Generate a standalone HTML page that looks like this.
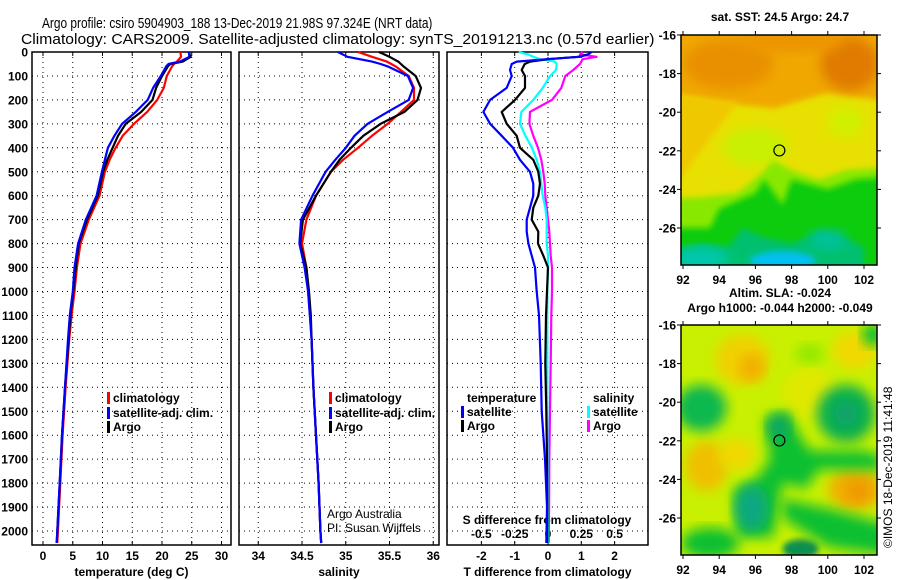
<!DOCTYPE html>
<html><head><meta charset="utf-8"><style>
html,body{margin:0;padding:0;background:#fff;}
svg{display:block;font-family:"Liberation Sans",sans-serif;}
.tk{font-size:12px;font-weight:bold;}
.lg{font-size:12px;font-weight:bold;}
</style></head><body>
<svg id="chart" width="900" height="580" viewBox="0 0 900 580" xmlns="http://www.w3.org/2000/svg">
<defs>
<filter id="blur" x="-20%" y="-20%" width="140%" height="140%"><feGaussianBlur stdDeviation="6"/></filter>
<filter id="blur2" x="-20%" y="-20%" width="140%" height="140%"><feGaussianBlur stdDeviation="3"/></filter>
<clipPath id="clipTop"><rect x="681" y="35" width="196" height="230"/></clipPath>
<clipPath id="clipBot"><rect x="681" y="325" width="196" height="230"/></clipPath>
</defs>
<text id="t1" x="0" y="28" font-size="15">Argo profile: csiro 5904903_188 13-Dec-2019 21.98S 97.324E (NRT data)</text>
<text id="t2" x="0" y="44" font-size="15">Climatology: CARS2009. Satellite-adjusted climatology: synTS_20191213.nc (0.57d earlier)</text>
<g id="panels"></g>
<g id="maps"></g>
</svg>
<script>
// ---------- data ----------
const depths = [0,20,40,50,60,100,150,200,250,300,350,400,450,500,600,700,800,900,1000,1100,1200,1400,1600,1800,2000,2050];
const tempArgo = [24.5,24.8,23.5,21.4,21,20,19,18.4,16.5,13.9,12.6,11.7,10.8,10.1,9.2,7.4,6.0,5.5,5.1,4.6,4.3,3.7,3.2,2.8,2.4,2.3];
const tempClim = [23.1,23.2,22.5,22,21.7,20.8,20.3,19.2,17.5,15.3,13.4,12.2,11.2,10.4,9.5,7.7,6.3,5.7,5.3,4.8,4.4,3.8,3.3,2.9,2.5,2.4];
const tempSat = [24.5,24.6,23,21.1,20.7,19.8,18.5,17.6,15.6,13.3,12.0,10.9,10.4,9.9,9.0,7.2,5.9,5.3,5.0,4.5,4.2,3.7,3.2,2.8,2.4,2.3];
const salArgo = [35.38,35.5,35.6,35.63,35.66,35.80,35.86,35.82,35.67,35.40,35.2,35.06,34.93,34.83,34.66,34.51,34.48,34.55,34.58,34.60,34.61,34.63,34.66,34.69,34.71,34.72];
const salClim = [35.14,35.3,35.47,35.52,35.57,35.72,35.78,35.78,35.63,35.48,35.3,35.14,34.97,34.83,34.66,34.55,34.50,34.55,34.57,34.59,34.61,34.63,34.66,34.69,34.71,34.72];
const salSat = [34.91,35.02,35.3,35.40,35.48,35.71,35.77,35.72,35.48,35.25,35.1,35.0,34.88,34.77,34.62,34.49,34.47,34.53,34.57,34.59,34.61,34.63,34.66,34.69,34.71,34.72];
const diffDepths = [0,10,20,30,40,50,75,100,150,200,250,300,350,400,450,500,550,600,650,700,750,800,850,900,1000,1100,1300,1500,1700,1900,2050];
const tDiffSat = [1.3,1.2,0.96,-0.04,-0.94,-1.09,-1.14,-1.09,-1.24,-1.74,-1.94,-1.74,-1.39,-1.05,-0.84,-0.54,-0.44,-0.44,-0.54,-0.64,-0.64,-0.59,-0.49,-0.39,-0.34,-0.27,-0.22,-0.19,-0.09,-0.03,-0.05];
const tDiffArgo = [1.3,1.2,0.9,0.0,-0.54,-0.7,-0.79,-0.69,-0.69,-0.99,-1.39,-1.24,-0.94,-0.84,-0.44,-0.29,-0.24,-0.29,-0.44,-0.49,-0.29,-0.3,-0.14,0,-0.03,-0.06,-0.08,-0.05,-0.03,-0.02,-0.02];
const sDiffSat = [-0.22,-0.15,-0.11,-0.06,0.05,0.065,0.06,0.015,-0.04,-0.11,-0.2,-0.21,-0.17,-0.12,-0.085,-0.06,-0.05,-0.04,-0.02,-0.01,-0.01,-0.01,0,0,-0.005,-0.005,-0.005,-0.005,-0.003,-0.002,0];
const sDiffArgo = [0.26,0.24,0.365,0.26,0.25,0.24,0.19,0.13,0.10,0.03,-0.135,-0.14,-0.11,-0.075,-0.05,-0.035,-0.025,-0.02,-0.01,0,0.01,0.015,0.02,0.03,0.03,0.025,0.02,0.015,0.01,0.008,0.005];
const depthTicks = [0,100,200,300,400,500,600,700,800,900,1000,1100,1200,1300,1400,1500,1600,1700,1800,1900,2000];
const tempTicks = [0,5,10,15,20,25,30];
const salTicks = [34,34.5,35,35.5,36];
const salTickLabels = ["34","34.5","35","35.5","36"];
const tDiffTicks = [-2,-1,0,1,2];
const sDiffTicks = [-0.5,-0.25,0,0.25,0.5];
const sDiffTickLabels = ["-0.5","-0.25","0","0.25","0.5"];
const latTicks = [-16,-18,-20,-22,-24,-26];
const lonTicks = [92,94,96,98,100,102];
const argoLon = 97.324, argoLat = -21.98;

// ---------- titles: fit horizontally ----------
function fitTitle(id, x0, w){
  const t = document.getElementById(id);
  const n = t.getComputedTextLength();
  const s = n > 0 ? w / n : 1;
  t.setAttribute('transform', 'translate(' + x0 + ',0) scale(' + s.toFixed(4) + ',1)');
}
fitTitle('t1', 42, 391);
fitTitle('t2', 21, 634);

// ---------- helpers ----------
const NS = "http://www.w3.org/2000/svg";
function mk(tag, attrs, parent){ const e=document.createElementNS(NS,tag); for(const k in attrs) e.setAttribute(k,attrs[k]); if(parent) parent.appendChild(e); return e; }
const yD = d => 52 + d*0.2395;
const PT = 52, PB = 545;
const xT = t => 43 + t*5.95;
const xS = s => 302 + (s-34.5)*87.5;
const xTD = t => 548 + t*33.3;
const xSD = s => 548 + s*133.2;
const G = document.getElementById('panels');

function panel(name, L, R, xTicks, xf, labels, title){
  const g = mk('g',{},G);
  
  
  depthTicks.forEach(d=>{ if(d>0){ const l=mk('line',{x1:L,x2:R,y1:yD(d),y2:yD(d),stroke:'#000','stroke-width':1,'stroke-dasharray':'1,4'},g);   }});
  xTicks.forEach((v,i)=>{ const x=xf(v); const l=mk('line',{x1:x,x2:x,y1:PT,y2:PB,stroke:'#000','stroke-width':1,'stroke-dasharray':'1,4'},g);  
    mk('line',{x1:x,x2:x,y1:PT,y2:PT+4,stroke:'#000'},g); mk('line',{x1:x,x2:x,y1:PB,y2:PB-4,stroke:'#000'},g);
    if(labels){ const t=mk('text',{x:x,y:560,'text-anchor':'middle',class:'tk'},g); t.textContent=labels[i];   }
  });
  const fr = mk('rect',{x:L,y:PT,width:R-L,height:PB-PT,fill:'none',stroke:'#000','stroke-width':1.5},g);
   
  if(title){ const t=mk('text',{x:(L+R)/2,y:576,'text-anchor':'middle',class:'tk'},g); t.textContent=title;   }
  return g;
}
function line(g, name, dep, vals, xf, color){
  const pts = dep.map((d,i)=>xf(vals[i]).toFixed(1)+','+yD(d).toFixed(1)).join(' ');
  const p = mk('polyline',{points:pts,fill:'none',stroke:color,'stroke-width':2.2,'stroke-linejoin':'round'},g);
  
  
}
function legend(g, x, y, color, label){
  mk('rect',{x:x,y:y-10,width:3,height:12,fill:color},g);
  const t = mk('text',{x:x+6,y:y,class:'lg'},g); t.textContent=label;
  
  
}

// panel 1
const g1 = panel('temperature-panel', 32, 231, tempTicks, xT, tempTicks.map(String), 'temperature (deg C)');
depthTicks.forEach(d=>{ const t=mk('text',{x:28,y:yD(d)+4.5,'text-anchor':'end',class:'tk'},g1); t.textContent=d;   });
line(g1,'temp-climatology-line',depths,tempClim,xT,'#ff0000');
line(g1,'temp-argo-line',depths,tempArgo,xT,'#000000');
line(g1,'temp-satellite-line',depths,tempSat,xT,'#0000ff');
legend(g1,107,402,'#ff0000','climatology');
legend(g1,107,417,'#0000ff','satellite-adj. clim.');
legend(g1,107,431,'#000','Argo');

// panel 2
const g2 = panel('salinity-panel', 239, 439, salTicks, xS, salTickLabels, 'salinity');
line(g2,'sal-climatology-line',depths,salClim,xS,'#ff0000');
line(g2,'sal-argo-line',depths,salArgo,xS,'#000000');
line(g2,'sal-satellite-line',depths,salSat,xS,'#0000ff');
legend(g2,329,402,'#ff0000','climatology');
legend(g2,329,417,'#0000ff','satellite-adj. clim.');
legend(g2,329,431,'#000','Argo');
const c1=mk('text',{x:327,y:518,'font-size':'12'},g2); c1.textContent='Argo Australia';  
const c2=mk('text',{x:327,y:532,'font-size':'12'},g2); c2.textContent='PI: Susan Wijffels';  

// panel 3
const g3 = panel('difference-panel', 447, 648, tDiffTicks, xTD, tDiffTicks.map(String), 'T difference from climatology');
sDiffTicks.forEach((v,i)=>{ const t=mk('text',{x:xSD(v),y:538,'text-anchor':'middle',class:'tk'},g3); t.textContent=sDiffTickLabels[i];   });
const st=mk('text',{x:547,y:524,'text-anchor':'middle',class:'tk'},g3); st.textContent='S difference from climatology';  
line(g3,'sdiff-argo-line',diffDepths,sDiffArgo,xSD,'#ff00ff');
line(g3,'sdiff-satellite-line',diffDepths,sDiffSat,xSD,'#00ffff');
line(g3,'tdiff-argo-line',diffDepths,tDiffArgo,xTD,'#000000');
line(g3,'tdiff-satellite-line',diffDepths,tDiffSat,xTD,'#0000ff');
const lt=mk('text',{x:467,y:402,class:'lg'},g3); lt.textContent='temperature';  
legend(g3,461,416,'#0000ff','satellite');
legend(g3,461,430,'#000','Argo');
const ls=mk('text',{x:593,y:402,class:'lg'},g3); ls.textContent='salinity';  
legend(g3,587,416,'#00ffff','satellite');
legend(g3,587,430,'#ff00ff','Argo');

// ---------- maps ----------
const M = document.getElementById('maps');
const mx = lon => 683 + (lon-92)*18.1;
function mapFrame(name, top, title1, title2, shapes, clip){
  const g = mk('g',{},M);
  
  
  const my = lat => top + (-16-lat)*19.3;
  const img = mk('g',{'clip-path':'url(#'+clip+')'},g);
  shapes(img, my);
  mk('circle',{cx:mx(argoLon),cy:my(argoLat),r:5.5,fill:'none',stroke:'#000','stroke-width':1.2},g);
  mk('rect',{x:681,y:top,width:196,height:230,fill:'none',stroke:'#000','stroke-width':1.5},g);
  latTicks.forEach(v=>{ const y=my(v); mk('line',{x1:677,x2:681,y1:y,y2:y,stroke:'#000'},g); mk('line',{x1:877,x2:881,y1:y,y2:y,stroke:'#000'},g);
    const t=mk('text',{x:676,y:y+4.5,'text-anchor':'end',class:'tk'},g); t.textContent=v;   });
  lonTicks.forEach(v=>{ const x=mx(v); mk('line',{x1:x,x2:x,y1:top-4,y2:top,stroke:'#000'},g); mk('line',{x1:x,x2:x,y1:top+230,y2:top+234,stroke:'#000'},g);
    const t=mk('text',{x:x,y:top+249,'text-anchor':'middle',class:'tk'},g); t.textContent=v;   });
  const a=mk('text',{x:780,y:top-14-(title2?14:0),'text-anchor':'middle',class:'tk'},g); a.textContent=title1;  
  if(title2){ const b=mk('text',{x:780,y:top-13,'text-anchor':'middle',class:'tk'},g); b.textContent=title2;   }
}
function blob(g,my,lon,lat,rx,ry,color,f){ mk('ellipse',{cx:mx(lon),cy:my(lat),rx:rx*18.1,ry:ry*19.3,fill:color,filter:'url(#'+(f||'blur')+')'},g); }
function poly(g,my,pts,color,f){ mk('polygon',{points:pts.map(p=>mx(p[0])+','+my(p[1])).join(' '),fill:color,filter:'url(#'+(f||'blur2')+')'},g); }

mapFrame('sst-map',35,'sat. SST: 24.5 Argo: 24.7',null,(g,my)=>{
  mk('rect',{x:660,y:20,width:240,height:260,fill:'#e8e000'},g);
  poly(g,my,[[91,-15],[104,-15],[104,-19.5],[100,-19],[97,-19.8],[94,-19.5],[91,-19]],'#f0a800');
  blob(g,my,94.5,-17.5,2.5,1.3,'#e99000');
  blob(g,my,101.2,-17.5,1.6,1.4,'#e07a00');
  blob(g,my,98,-16.3,3,0.6,'#ec9400');
  poly(g,my,[[91,-19],[95,-19.5],[91,-24.5]],'#f0c800');
  blob(g,my,96,-21.8,1.8,1,'#c8f000');
  blob(g,my,101,-20.5,1,0.8,'#d0f000');
  poly(g,my,[[91,-24.5],[93,-24.4],[95,-24.2],[96.3,-23.2],[97,-22.5],[98,-23],[99.5,-23.5],[101,-23],[104,-22.8],[104,-29],[91,-29]],'#88e800');
  poly(g,my,[[91,-26],[93.5,-26],[94,-25],[96,-24.2],[96.5,-23.5],[97.5,-24.8],[98,-23.5],[100,-24],[101.5,-23.5],[104,-23.3],[104,-29],[91,-29]],'#10cc10');
  poly(g,my,[[91,-27.3],[93,-26.8],[94.5,-27],[95.3,-26],[96.5,-26.5],[98,-26.8],[99.5,-26.2],[101,-26.5],[102,-27],[102,-29],[91,-29]],'#00c070');
  blob(g,my,93,-27.6,1.5,0.6,'#00c8b0');
  blob(g,my,97.5,-27.7,1.8,0.5,'#00c0f0','blur2');
  blob(g,my,100,-26.6,1,0.5,'#00c0a0');
}, 'clipTop');

mapFrame('sla-map',325,'Altim. SLA: -0.024','Argo h1000: -0.044 h2000: -0.049',(g,my)=>{
  mk('rect',{x:660,y:300,width:240,height:280,fill:'#c8f000'},g);
  blob(g,my,95.3,-17.8,1.5,1.3,'#f0d000');
  blob(g,my,95.8,-18.2,0.7,0.7,'#f0b000');
  blob(g,my,101.5,-17.3,1.2,1,'#f0d800');
  blob(g,my,93.3,-23.3,1.2,1.3,'#f0c000');
  blob(g,my,95,-22.7,1,0.8,'#f0d800');
  blob(g,my,101.5,-24.5,1.5,1.1,'#f0b000');
  blob(g,my,101.7,-24.6,0.7,0.6,'#f09800');
  blob(g,my,99,-19.5,1.5,1.3,'#e0e800');
  blob(g,my,93,-20.3,1.4,1.2,'#10b850');
  blob(g,my,101,-20.6,1.6,1.5,'#10b050');
  blob(g,my,101,-20.6,0.6,0.6,'#10a070');
  poly(g,my,[[96.5,-20.8],[97.8,-20.5],[98.5,-21.8],[99,-22.5],[102,-22.5],[103,-22.8],[103,-23.5],[99.5,-23.5],[98.8,-24.5],[97.5,-24.2],[97,-27],[95,-27],[94.8,-24.5],[96,-24],[96.8,-23]],'#10c030','blur');
  blob(g,my,95.8,-25.5,0.9,1.2,'#10a880');
  blob(g,my,97.3,-21.3,0.6,0.7,'#10a860');
  poly(g,my,[[97.5,-25],[100,-25.5],[102,-26],[104,-26.5],[104,-28],[100,-27.5],[97.5,-26]],'#10c030','blur');
  blob(g,my,93.5,-27.3,1.6,0.8,'#10c030');
  blob(g,my,98.5,-27.6,1,0.5,'#109050','blur2');
  blob(g,my,102.5,-16.5,0.6,0.6,'#10c030');
  blob(g,my,99,-17.5,0.8,0.5,'#90e800');
}, 'clipBot');
const cr = mk('text',{x:892,y:548,'font-size':'12',transform:'rotate(-90 892 548)'},M);
cr.textContent='©IMOS 18-Dec-2019 11:41:48';


</script>
</body></html>
